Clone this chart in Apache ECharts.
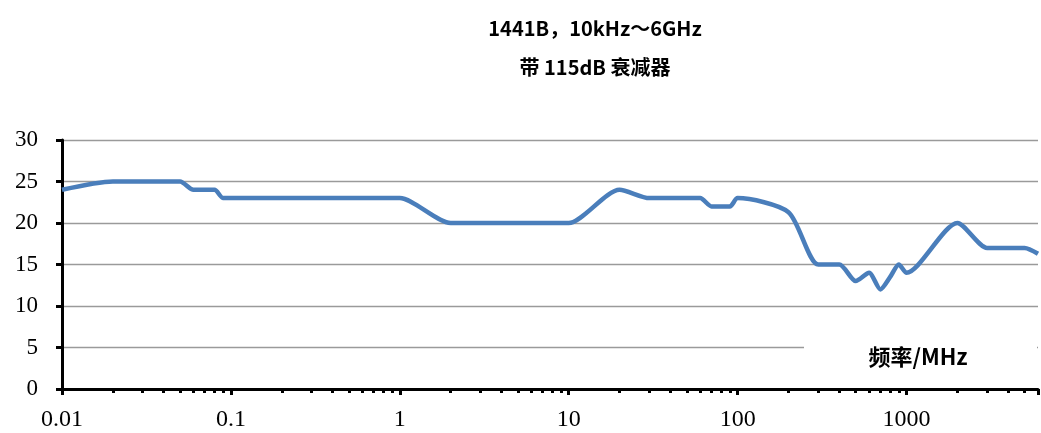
<!DOCTYPE html>
<html>
<head>
<meta charset="utf-8">
<script src="https://cdn.jsdelivr.net/npm/echarts@6/dist/echarts.min.js"></script>
<style>
  html, body { margin: 0; padding: 0; background: #fff; }
  #chart { width: 1041px; height: 433px; }
</style>
</head>
<body>
<div id="chart"></div>
<script>
// Frequency points (MHz) and measured level at each point
const freqMHz = [
  0.01, 0.02, 0.03, 0.04, 0.05, 0.06, 0.07, 0.08, 0.09,
  0.1, 0.2, 0.3, 0.4, 0.5, 0.6, 0.7, 0.8, 0.9,
  1, 2, 3, 4, 5, 6, 7, 8, 9,
  10, 20, 30, 40, 50, 60, 70, 80, 90,
  100, 200, 300, 400, 500, 600, 700, 800, 900,
  1000, 2000, 3000, 4000, 5000, 6000
];
const level = [
  24, 25, 25, 25, 25, 24, 24, 24, 23,
  23, 23, 23, 23, 23, 23, 23, 23, 23,
  23, 20, 20, 20, 20, 20, 20, 20, 20,
  20, 24, 23, 23, 23, 23, 22, 22, 22,
  23, 21.3, 15, 15, 13, 14, 12, 13.5, 15,
  14, 20, 17, 17, 17, 16.3
];

const titleLines = ['1441B，10kHz～6GHz', '带 115dB 衰减器'];
const axisName = '频率/MHz';
const yTicks = { min: 0, max: 30, step: 5 };
const xRange = { min: 0.01, max: 6000 };

const chart = echarts.init(document.getElementById('chart'), null, { renderer: 'canvas' });

const titleFont = {
  fontFamily: '"Noto Sans CJK SC", "Noto Sans", sans-serif',
  fontWeight: 'bold',
  fontSize: 20,
  color: '#000'
};

const option = {
  animation: false,
  backgroundColor: '#fff',
  title: [
    { text: titleLines[0], left: 590, top: 13, textAlign: 'center', textStyle: titleFont },
    { text: titleLines[1], left: 590, top: 52, textAlign: 'center', textStyle: titleFont }
  ],
  grid: { left: 62, top: 140, width: 982, height: 249, containLabel: false },
  xAxis: {
    type: 'log',
    logBase: 10,
    min: xRange.min,
    max: xRange.max,
    axisLine: { show: true, lineStyle: { color: '#000', width: 3 } },
    axisTick: { show: true, inside: false, length: 6, lineStyle: { color: '#000', width: 3 } },
    minorTick: { show: true, splitNumber: 9, length: 4, lineStyle: { color: '#000', width: 3 } },
    splitLine: { show: false },
    minorSplitLine: { show: false },
    axisLabel: {
      margin: 19,
      fontFamily: '"Liberation Serif", serif',
      fontSize: 24,
      color: '#000',
      formatter: function (v) {
        const l = Math.log10(v);
        return Math.abs(l - Math.round(l)) < 1e-6 ? String(Number(v.toPrecision(6))) : '';
      }
    }
  },
  yAxis: {
    type: 'value',
    min: yTicks.min,
    max: yTicks.max,
    interval: yTicks.step,
    axisLine: { show: true, lineStyle: { color: '#000', width: 3 } },
    axisTick: { show: true, inside: false, length: 6, lineStyle: { color: '#000', width: 3 } },
    splitLine: { show: true, lineStyle: { color: '#9a9a9a', width: 1.4 } },
    axisLabel: {
      margin: 24,
      fontFamily: '"Liberation Serif", serif',
      fontSize: 23,
      color: '#000'
    }
  },
  series: [{
    type: 'line',
    data: freqMHz.map((f, i) => [f, level[i]]),
    smooth: 0.25,
    showSymbol: false,
    lineStyle: { color: '#4a7ebb', width: 4.5 },
    z: 5
  }],
  graphic: [
    {
      type: 'rect',
      shape: { x: 804, y: 322, width: 233, height: 62 },
      style: { fill: '#fff' },
      z: 3
    },
    {
      type: 'text',
      x: 918,
      y: 357,
      style: {
        text: axisName,
        fill: '#000',
        font: 'bold 22px "Noto Sans CJK SC", sans-serif',
        align: 'center',
        verticalAlign: 'middle'
      },
      z: 4
    }
  ]
};

chart.setOption(option);
</script>
</body>
</html>
